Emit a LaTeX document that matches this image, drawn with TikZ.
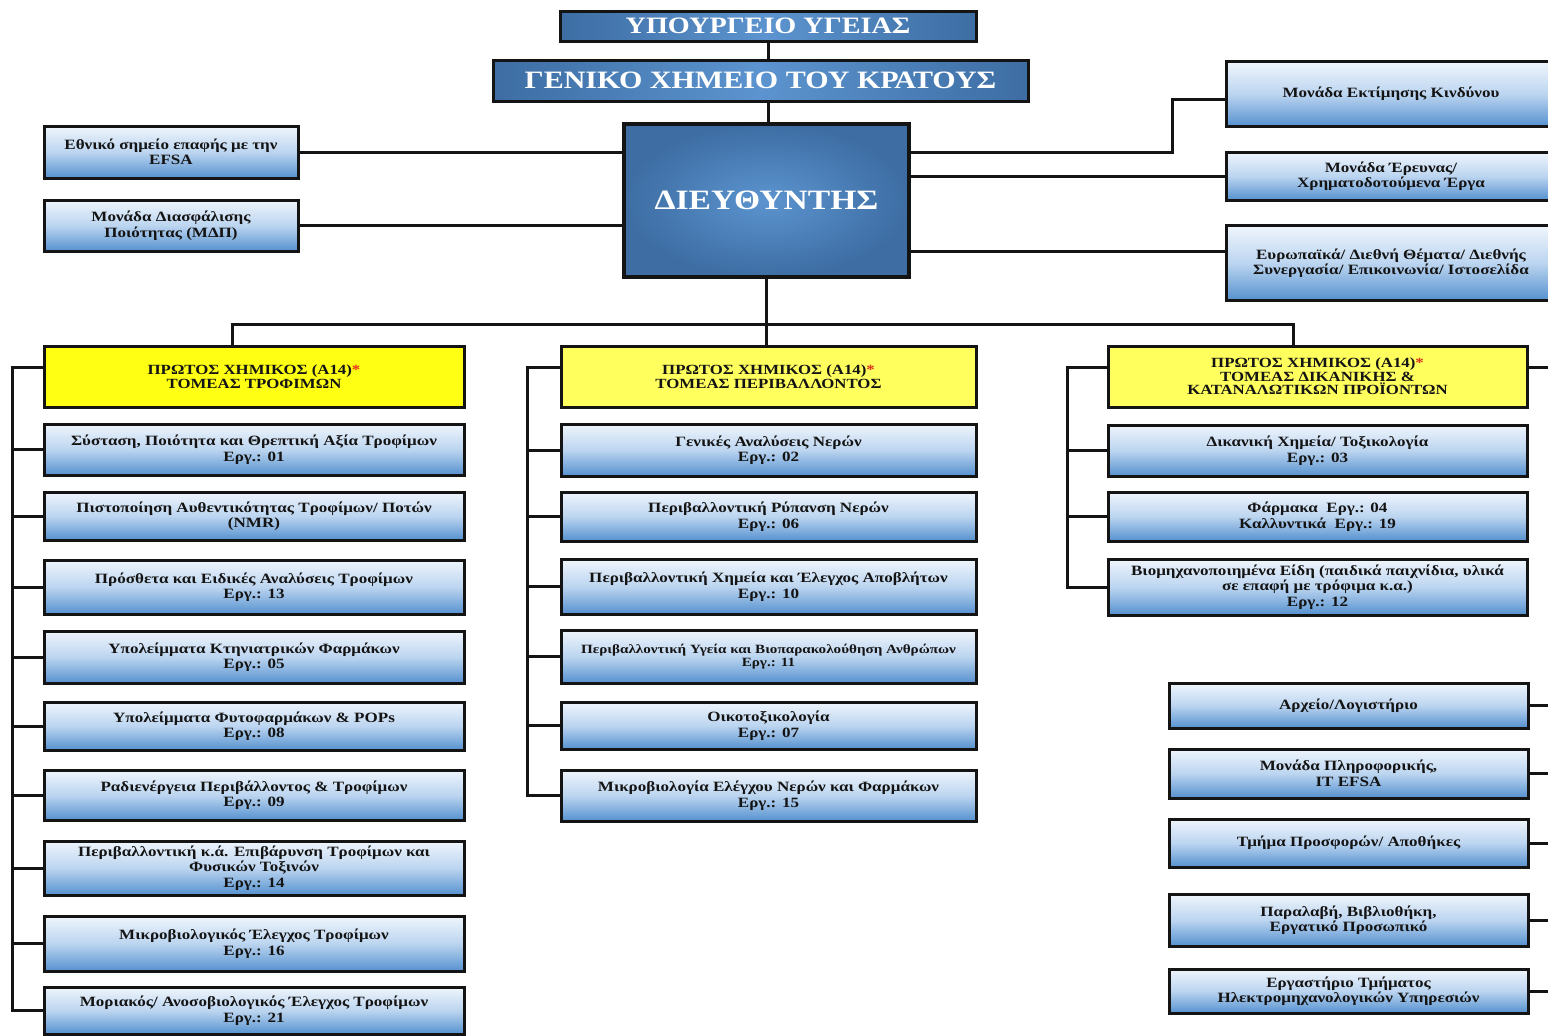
\documentclass[tikz,border=0pt]{standalone}
\usepackage{fontspec}
\setmainfont{Liberation Serif}[FakeStretch=1.2]
\usepackage{xcolor}
\usepackage{tikz}
\usetikzlibrary{calc}
\definecolor{ink}{HTML}{141414}
\definecolor{steel}{HTML}{3D6DA3}
\definecolor{steellt}{HTML}{5C94CF}
\definecolor{paletop}{HTML}{EFF5FC}
\definecolor{palemid}{HTML}{BCD5F0}
\definecolor{palebot}{HTML}{5591CF}
\definecolor{lemon}{HTML}{FFFF14}
\definecolor{lemonlt}{HTML}{FFFF5E}
\definecolor{star}{HTML}{E0301E}
\newcommand{\chemstar}{\textcolor{star}{*}}
\tikzset{
  link/.style={draw=ink, line width=3pt},
  head/.style={draw=ink, line width=3pt, left color=steel, right color=steel, middle color=steellt,
    text=white, inner sep=0pt, font=\bfseries\fontsize{24}{26}\selectfont},
  chief/.style={draw=ink, line width=4.8pt, inner color=steellt, outer color=steel,
    text=white, inner sep=0pt, font=\bfseries\fontsize{28}{30}\selectfont},
  unit/.style={draw=ink, line width=3pt, top color=paletop, bottom color=palebot, middle color=palemid,
    text=ink, align=center, inner sep=2pt, font=\bfseries\fontsize{14.2}{15.5}\selectfont},
  sector/.style={draw=ink, line width=3pt, text=ink, align=center, inner sep=2pt,
    minimum height=61pt, font=\bfseries\fontsize{14}{13.5}\selectfont},
  txtn/.style={},
  txts/.style={font=\bfseries\fontsize{12.6}{13.5}\selectfont},
}
\begin{document}
\begin{tikzpicture}[x=1pt,y=-1pt]
  \useasboundingbox (0,0) rectangle (1548,1036);
  \clip (0,0) rectangle (1548,1036);
  \node[head, minimum width=416pt, minimum height=30pt, font=\bfseries\fontsize{23.5}{25}\selectfont] (moh) at (768,26) {ΥΠΟΥΡΓΕΙΟ ΥΓΕΙΑΣ};
  \node[head, minimum width=535pt, minimum height=41pt, font=\bfseries\fontsize{25}{27}\selectfont] (gxk) at (760.5,80.5) {ΓΕΝΙΚΟ ΧΗΜΕΙΟ ΤΟΥ ΚΡΑΤΟΥΣ};
  \node[chief, minimum width=285pt, minimum height=153pt] (dir) at (766.5,200.5) {ΔΙΕΥΘΥΝΤΗΣ};
  \node[unit, minimum width=254pt, minimum height=52pt] (nfp) at (171,152) {Εθνικό σημείο επαφής με την\\EFSA};
  \node[unit, minimum width=254pt, minimum height=51pt] (qa) at (171,225.5) {Μονάδα Διασφάλισης\\Ποιότητας (ΜΔΠ)};
  \node[unit, minimum width=330pt, minimum height=65pt] (risk) at (1391,94) {Μονάδα Εκτίμησης Κινδύνου};
  \node[unit, minimum width=330pt, minimum height=48pt] (res) at (1391,176) {Μονάδα Έρευνας/\\Χρηματοδοτούμενα Έργα};
  \node[unit, minimum width=330pt, minimum height=75pt] (intl) at (1391,263) {Ευρωπαϊκά/ Διεθνή Θέματα/ Διεθνής\\Συνεργασία/ Επικοινωνία/ Ιστοσελίδα};
  \draw[link] (moh.south) -- (moh.south |- gxk.north);
  \draw[link] (moh.south |- gxk.south) -- (moh.south |- dir.north);
  \draw[link] (nfp.east) -- (nfp.east -| dir.west);
  \draw[link] (qa.east) -- (qa.east -| dir.west);
  \coordinate (rbend) at (1172,99);
  \coordinate (rlow) at (1100,251);
  \draw[link] (nfp.east -| dir.east) -| (rbend) -- (rbend -| risk.west);
  \draw[link] (res.west) -- (res.west -| dir.east);
  \draw[link] (rlow -| dir.east) -- (rlow -| intl.west);

  \node[sector, fill=lemon, minimum width=420pt] (sec1) at (254,376.5) {ΠΡΩΤΟΣ ΧΗΜΙΚΟΣ (Α14)\chemstar\\ΤΟΜΕΑΣ ΤΡΟΦΙΜΩΝ};
  \node[sector, fill=lemonlt, minimum width=415pt] (sec2) at (768.5,376.5) {ΠΡΩΤΟΣ ΧΗΜΙΚΟΣ (Α14)\chemstar\\ΤΟΜΕΑΣ ΠΕΡΙΒΑΛΛΟΝΤΟΣ};
  \node[sector, fill=lemonlt, minimum width=419pt] (sec3) at (1317.5,376.5) {ΠΡΩΤΟΣ ΧΗΜΙΚΟΣ (Α14)\chemstar\\ΤΟΜΕΑΣ ΔΙΚΑΝΙΚΗΣ \&\\ΚΑΤΑΝΑΛΩΤΙΚΩΝ ΠΡΟΪΟΝΤΩΝ};
  \coordinate (busl) at (232,324);
  \coordinate (busr) at (1293,324);
  \draw[link] (dir.south) -- (dir.south |- sec2.north);
  \draw[link] (busl |- sec1.north) -- (busl) -- (busr) -- (busr |- sec3.north);

  \coordinate (fspine) at (12,367);
  \coordinate (mspine) at (527,367);
  \coordinate (dspine) at (1067,367);
  \coordinate (rim) at (1548,367);

  \foreach \n/\y/\h/\txt in {
    1/449.5/51/{Σύσταση, Ποιότητα και Θρεπτική Αξία Τροφίμων\\Εργ.: 01},
    2/516/48/{Πιστοποίηση Αυθεντικότητας Τροφίμων/ Ποτών\\(NMR)},
    3/587/54/{Πρόσθετα και Ειδικές Αναλύσεις Τροφίμων\\Εργ.: 13},
    4/657/52/{Υπολείμματα Κτηνιατρικών Φαρμάκων\\Εργ.: 05},
    5/726/48/{Υπολείμματα Φυτοφαρμάκων \& POPs\\Εργ.: 08},
    6/795/50/{Ραδιενέργεια Περιβάλλοντος \& Τροφίμων\\Εργ.: 09},
    7/868/54/{Περιβαλλοντική κ.ά. Επιβάρυνση Τροφίμων και\\Φυσικών Τοξινών\\Εργ.: 14},
    8/943.5/55/{Μικροβιολογικός Έλεγχος Τροφίμων\\Εργ.: 16},
    9/1010.5/47/{Μοριακός/ Ανοσοβιολογικός Έλεγχος Τροφίμων\\Εργ.: 21}} {
    \node[unit, minimum width=420pt, minimum height=\h pt] (f\n) at (254,\y) {\txt};
    \draw[link] (f\n.west) -- (f\n.west -| fspine);
  }
  \draw[link] (fspine -| sec1.west) -- (fspine) |- (f9.west);

  \foreach \n/\y/\h/\s/\txt in {
    1/450/52/txtn/{Γενικές Αναλύσεις Νερών\\Εργ.: 02},
    2/516.5/49/txtn/{Περιβαλλοντική Ρύπανση Νερών\\Εργ.: 06},
    3/586.5/55/txtn/{Περιβαλλοντική Χημεία και Έλεγχος Αποβλήτων\\Εργ.: 10},
    4/656.5/53/txts/{Περιβαλλοντική Υγεία και Βιοπαρακολούθηση Ανθρώπων\\Εργ.: 11},
    5/725.5/47/txtn/{Οικοτοξικολογία\\Εργ.: 07},
    6/795.5/51/txtn/{Μικροβιολογία Ελέγχου Νερών και Φαρμάκων\\Εργ.: 15}} {
    \node[unit, \s, minimum width=415pt, minimum height=\h pt] (e\n) at (768.5,\y) {\txt};
    \draw[link] (e\n.west) -- (e\n.west -| mspine);
  }
  \draw[link] (mspine -| sec2.west) -- (mspine) |- (e6.west);

  \foreach \n/\y/\h/\txt in {
    1/450.5/51/{Δικανική Χημεία/ Τοξικολογία\\Εργ.: 03},
    2/516.5/49/{Φάρμακα~~Εργ.: 04\\Καλλυντικά~~Εργ.: 19},
    3/587/56/{Βιομηχανοποιημένα Είδη (παιδικά παιχνίδια, υλικά\\σε επαφή με τρόφιμα κ.α.)\\Εργ.: 12}} {
    \node[unit, minimum width=419pt, minimum height=\h pt] (d\n) at (1317.5,\y) {\txt};
    \draw[link] (d\n.west) -- (d\n.west -| dspine);
  }
  \draw[link] (dspine -| sec3.west) -- (dspine) |- (d3.west);
  \draw[link] (rim -| sec3.east) -- (rim);

  \foreach \n/\y/\h/\txt in {
    1/705.5/45/{Αρχείο/Λογιστήριο},
    2/773.5/49/{Μονάδα Πληροφορικής,\\IT EFSA},
    3/843/48/{Τμήμα Προσφορών/ Αποθήκες},
    4/920/52/{Παραλαβή, Βιβλιοθήκη,\\Εργατικό Προσωπικό},
    5/991/44/{Εργαστήριο Τμήματος\\Ηλεκτρομηχανολογικών Υπηρεσιών}} {
    \node[unit, minimum width=359pt, minimum height=\h pt] (s\n) at (1348.5,\y) {\txt};
    \draw[link] (s\n.east) -- (s\n.east -| rim);
  }
\end{tikzpicture}
\end{document}
